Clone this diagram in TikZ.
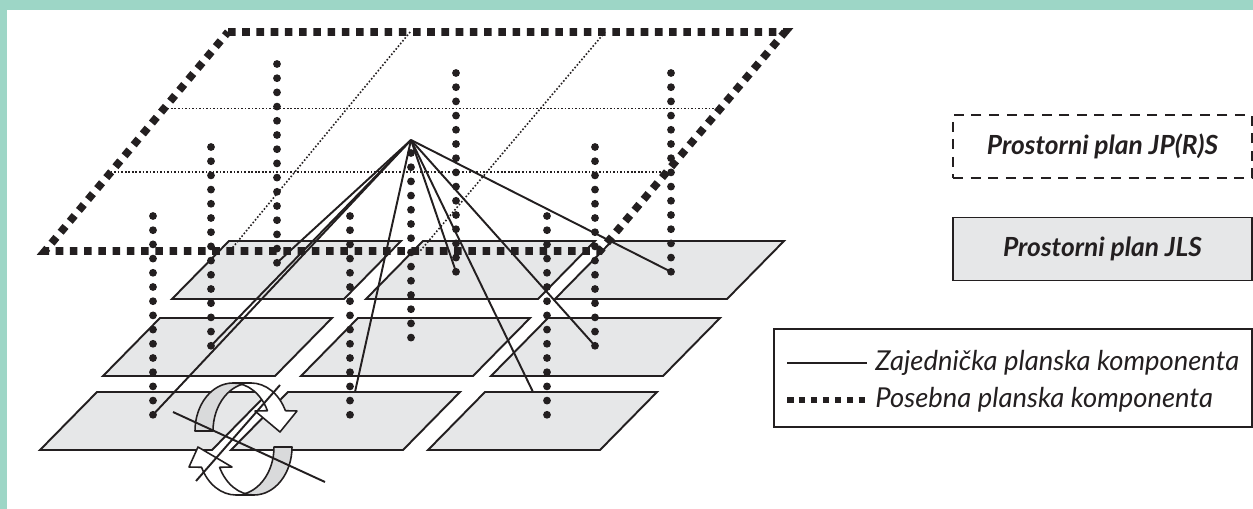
\documentclass[tikz,border=0pt]{standalone}
\usepackage{fontspec}
\setmainfont{Lato}
\usepackage{tikz}
\usetikzlibrary{positioning, calc}

\definecolor{frameteal}{RGB}{157,214,198}
\definecolor{plangray}{RGB}{230,231,232}
\definecolor{ribbongray}{RGB}{217,218,219}
\definecolor{ink}{RGB}{35,31,32}

\begin{document}
\begin{tikzpicture}[
    x=0.02cm, y=-0.02cm,
    panel/.style={draw=ink, fill=plangray, line width=1.1pt},
    topplan/.style={draw=ink, line width=4.4pt, dash pattern=on 4.3pt off 3.8pt},
    griddots/.style={draw=ink, line width=0.9pt, dash pattern=on 0.9pt off 1.1pt},
    link/.style={draw=ink, line width=1.1pt},
    ribbon/.style={draw=ink, line width=0.9pt, line join=round},
    planbox/.style={draw=ink, line width=1.1pt, minimum width=5.98cm, minimum height=1.26cm, font=\fontsize{15}{18}\selectfont\bfseries\itshape, text=ink},
    legtext/.style={font=\fontsize{15.6}{18}\selectfont\itshape, text=ink, inner sep=0pt}
]
\clip (0,0) rectangle (1253,509);

% Frame
\fill[frameteal] (0,0) rectangle (1253,10);
\fill[frameteal] (0,0) rectangle (7,509);

% Lower plans (JLS)
\foreach \px/\py in {229/241, 423/241, 612/241, 160/318, 358/318, 548/318, 97/392, 288/392, 485/392}
    \draw[panel] (\px,\py) -- ++(172,0) -- ++(-57,58) -- ++(-172,0) -- cycle;

% Upper plan JP(R)S
\coordinate (tp1) at (228,32);
\coordinate (tp2) at (785,32);
\coordinate (tp3) at (600,251);
\coordinate (tp4) at (45,251);
\draw[griddots] ($(tp1)!0.35!(tp4)$) -- ($(tp2)!0.35!(tp3)$);
\draw[griddots] ($(tp1)!0.64!(tp4)$) -- ($(tp2)!0.64!(tp3)$);
\draw[griddots] ($(tp1)!0.327!(tp2)$) -- ($(tp4)!0.333!(tp3)$);
\draw[griddots] ($(tp1)!0.677!(tp2)$) -- ($(tp4)!0.676!(tp3)$);
\draw[topplan] (tp1) -- (tp2) -- (tp3) -- (tp4) -- cycle;

% Separate components (dotted columns)
\foreach \cx/\cy/\n [count=\i] in {153/216/14, 211/147/14, 277/64/14, 350/216/14, 411/153/13, 456/73/14, 547/216/14, 595/147/14, 671/73/14} {
    \foreach \k in {0,...,\n}
        \fill[ink] (\cx,\cy+14.2*\k) circle[radius=0.078cm];
    \coordinate (col\i) at (\cx,\cy+14.2*\n);
}

% Common components
\coordinate (apex) at (411,140);
\coordinate (foot32) at (355,392);
\coordinate (foot33) at (533,392);
\foreach \t in {col1, col2, col3, foot32, col6, foot33, col8, col9}
    \draw[link] (apex) -- (\t);

% Rotation symbol
\filldraw[ribbon, fill=ribbongray] (195,431) arc[start angle=180, end angle=90, x radius=0.76cm, y radius=0.96cm]
    -- (251,383) arc[start angle=90, end angle=180, x radius=0.76cm, y radius=0.96cm] -- cycle;
\filldraw[ribbon, fill=white] (233,383) arc[start angle=90, end angle=25, x radius=0.76cm, y radius=0.96cm]
    -- (255,411) -- (280,432) -- (297,411) -- (285.4,410.7)
    arc[start angle=25, end angle=90, x radius=0.76cm, y radius=0.96cm] -- cycle;
\filldraw[ribbon, fill=ribbongray] (292,447) arc[start angle=0, end angle=-90, x radius=0.76cm, y radius=0.96cm]
    -- (236,495) arc[start angle=-90, end angle=0, x radius=0.76cm, y radius=0.96cm] -- cycle;
\filldraw[ribbon, fill=white] (236,495) arc[start angle=-90, end angle=-155, x radius=0.76cm, y radius=0.96cm]
    -- (189,467) -- (198,447) -- (232,467) -- (219.6,467.3)
    arc[start angle=-155, end angle=-90, x radius=0.76cm, y radius=0.96cm] -- cycle;
\coordinate (axisA) at (280,385);
\coordinate (axisB) at (196,481);
\coordinate (crossA) at (173,412);
\coordinate (crossB) at (325,482);
\draw[link] (axisA) -- (axisB);
\draw[link] (crossA) -- (crossB);

% Legend
\node[planbox, dash pattern=on 5.7pt off 4.3pt] (jprs) at (1102.5,146.5) {Prostorni plan JP(R)S};
\node[planbox, fill=plangray] (jls) at (1102.5,249) {Prostorni plan JLS};
\node[draw=ink, line width=1.1pt, minimum width=9.56cm, minimum height=1.96cm] (legend) at (1013,378) {};
\coordinate (commonA) at (787,363);
\coordinate (commonB) at (867,363);
\draw[ink, line width=0.9pt] (commonA) -- (commonB);
\node[legtext, right=0.16cm of commonB] (commontext) {Zajednička planska komponenta};
\coordinate (specialA) at (787,400);
\coordinate (specialB) at (867,400);
\draw[ink, line width=3.7pt, dash pattern=on 3.7pt off 3.1pt] (specialA) -- (specialB);
\node[legtext, right=0.16cm of specialB] (specialtext) {Posebna planska komponenta};

\end{tikzpicture}
\end{document}
